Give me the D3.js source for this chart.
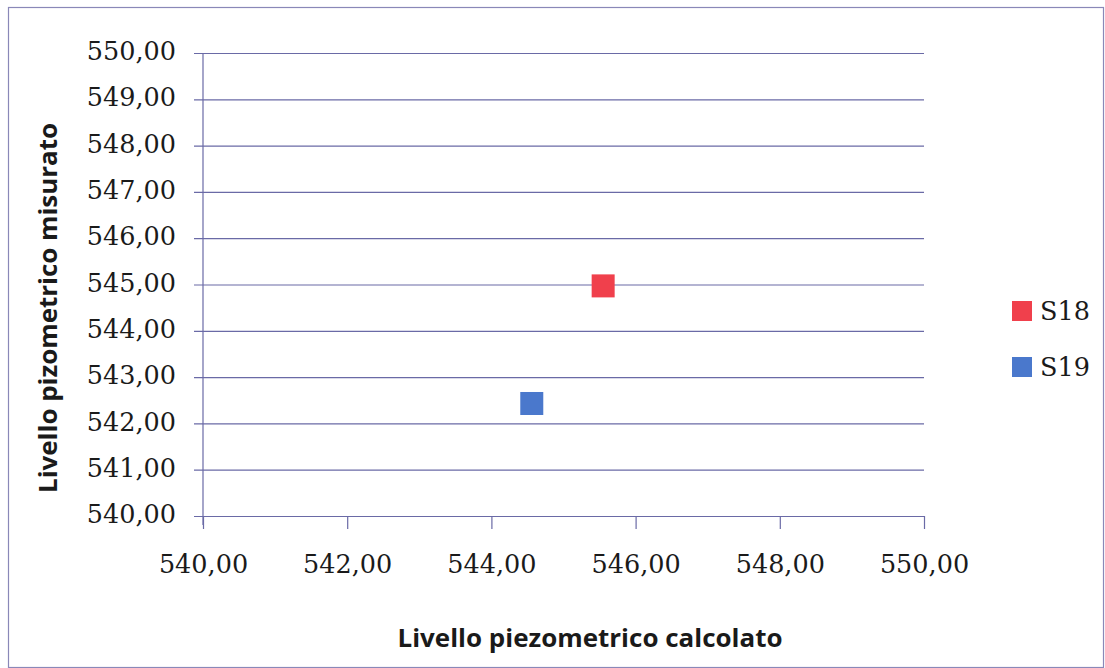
<!DOCTYPE html>
<html>
<head>
<meta charset="utf-8">
<script src="https://cdn.jsdelivr.net/npm/d3@7"></script>
<style>
  html, body { margin: 0; padding: 0; background: #fff; }
  svg { display: block; }
</style>
</head>
<body>
<svg id="chart" width="1105" height="668"></svg>
<script>
// Piezometric levels: calculated (x) vs measured (y)
const seriesNames = ["S18", "S19"];
const calcolato = [545.55, 544.56];
const misurato = [544.97, 542.43];
const seriesColors = ["#f0404c", "#4a78cc"];
const xTicks = [540, 542, 544, 546, 548, 550];
const yTicks = [540, 541, 542, 543, 544, 545, 546, 547, 548, 549, 550];

const W = 1105, H = 668;
const margin = { left: 203, top: 53, right: 924, bottom: 516 };

const svg = d3.select("#chart");
const fmt = v => d3.format(".2f")(v).replace(".", ",");

// outer frame
svg.append("rect")
  .attr("x", 8.5).attr("y", 7.5)
  .attr("width", W - 10).attr("height", H - 8)
  .attr("fill", "none").attr("stroke", "#8a88b8").attr("stroke-width", 1.2);

const x = d3.scaleLinear().domain([540, 550]).range([margin.left, margin.right]);
const y = d3.scaleLinear().domain([540, 550]).range([margin.bottom, margin.top]);

const axisColor = "#6a6aa6";
const tickFont = "'DejaVu Serif', serif";
const tickSize = 25.5;

// horizontal gridlines with left tick stubs
const yAxis = d3.axisLeft(y).tickValues(yTicks).tickFormat(fmt)
  .tickSize(-(margin.right - margin.left)).tickPadding(20);
const gy = svg.append("g").attr("transform", `translate(${margin.left},0)`).call(yAxis);
gy.select(".domain").remove();
gy.selectAll(".tick line")
  .attr("x1", -9)
  .attr("stroke", axisColor).attr("stroke-width", 1.2);
gy.selectAll(".tick text")
  .attr("font-family", tickFont).attr("font-size", tickSize)
  .attr("fill", "#1a1a1a").attr("x", -27).attr("dy", "0.26em");

// vertical axis line
svg.append("line")
  .attr("x1", margin.left).attr("x2", margin.left)
  .attr("y1", margin.top).attr("y2", margin.bottom + 9)
  .attr("stroke", axisColor).attr("stroke-width", 1.2);

// bottom axis
const xAxis = d3.axisBottom(x).tickValues(xTicks).tickFormat(fmt)
  .tickSize(13).tickPadding(26).tickSizeOuter(0);
const gx = svg.append("g").attr("transform", `translate(0,${margin.bottom})`).call(xAxis);
gx.select(".domain").attr("stroke", axisColor).attr("stroke-width", 1.2);
gx.selectAll(".tick line").attr("stroke", axisColor).attr("stroke-width", 1.2);
gx.selectAll(".tick text")
  .attr("font-family", tickFont).attr("font-size", tickSize)
  .attr("fill", "#1a1a1a");

// points
const pts = seriesNames.map((s, i) => ({ s, cx: calcolato[i], cy: misurato[i], c: seriesColors[i] }));
const sz = 23;
svg.append("g").selectAll("rect").data(pts).join("rect")
  .attr("x", d => x(d.cx) - sz / 2)
  .attr("y", d => y(d.cy) - sz / 2)
  .attr("width", sz).attr("height", sz)
  .attr("fill", d => d.c);

// axis titles
const titleFont = "'Open Sans', Lato, sans-serif";
svg.append("text")
  .attr("x", 590).attr("y", 647)
  .attr("text-anchor", "middle")
  .attr("font-family", titleFont).attr("font-weight", "bold").attr("font-size", 25)
  .attr("textLength", 385).attr("lengthAdjust", "spacingAndGlyphs")
  .attr("fill", "#1a1a1a")
  .text("Livello piezometrico calcolato");

svg.append("text")
  .attr("transform", "translate(57,308) rotate(-90)")
  .attr("text-anchor", "middle")
  .attr("font-family", titleFont).attr("font-weight", "bold").attr("font-size", 25)
  .attr("textLength", 370).attr("lengthAdjust", "spacingAndGlyphs")
  .attr("fill", "#1a1a1a")
  .text("Livello pizometrico misurato");

// legend
const lg = svg.append("g").selectAll("g").data(pts).join("g")
  .attr("transform", (d, i) => `translate(1012,${301 + i * 56})`);
lg.append("rect").attr("width", 20).attr("height", 20).attr("fill", d => d.c);
lg.append("text")
  .attr("x", 28).attr("y", 19)
  .attr("font-family", tickFont).attr("font-size", tickSize)
  .attr("fill", "#1a1a1a")
  .text(d => d.s);
</script>
</body>
</html>
